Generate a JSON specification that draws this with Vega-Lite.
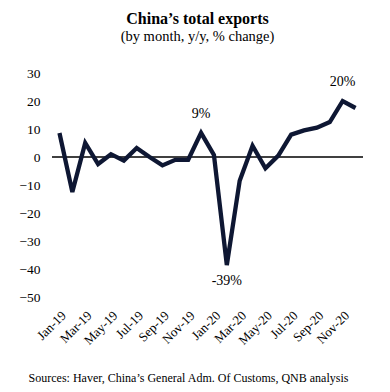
{
  "$schema": "https://vega.github.io/schema/vega-lite/v6.json",
  "autosize": "none",
  "width": 311,
  "height": 224,
  "padding": {"left": 52, "top": 73, "right": 27, "bottom": 95},
  "background": "white",
  "config": {"view": {"stroke": null}, "font": "Liberation Serif"},
  "title": {
    "text": "China’s total exports",
    "subtitle": "(by month, y/y, % change)",
    "font": "Liberation Serif",
    "fontSize": 16,
    "fontWeight": "bold",
    "color": "black",
    "subtitleFont": "Liberation Serif",
    "subtitleFontSize": 14.5,
    "subtitleColor": "black",
    "subtitlePadding": 3,
    "anchor": "middle",
    "dx": -10,
    "offset": 23
  },
  "data": {"values": [
    {"month": "Jan-19", "value": 8.6},
    {"month": "Feb-19", "value": -12.5},
    {"month": "Mar-19", "value": 5},
    {"month": "Apr-19", "value": -2.5},
    {"month": "May-19", "value": 1},
    {"month": "Jun-19", "value": -1.3},
    {"month": "Jul-19", "value": 3.2},
    {"month": "Aug-19", "value": 0},
    {"month": "Sep-19", "value": -3},
    {"month": "Oct-19", "value": -1},
    {"month": "Nov-19", "value": -1},
    {"month": "Dec-19", "value": 8.6},
    {"month": "Jan-20", "value": 0.7},
    {"month": "Feb-20", "value": -38.6},
    {"month": "Mar-20", "value": -8.5},
    {"month": "Apr-20", "value": 4},
    {"month": "May-20", "value": -4},
    {"month": "Jun-20", "value": 0.5},
    {"month": "Jul-20", "value": 8},
    {"month": "Aug-20", "value": 9.5},
    {"month": "Sep-20", "value": 10.5},
    {"month": "Oct-20", "value": 12.5},
    {"month": "Nov-20", "value": 20},
    {"month": "Dec-20", "value": 17.5}
  ]},
  "encoding": {
    "x": {
      "field": "month", "type": "ordinal", "sort": null,
      "scale": {"type": "point", "padding": 0.58},
      "axis": {
        "values": ["Jan-19","Mar-19","May-19","Jul-19","Sep-19","Nov-19","Jan-20","Mar-20","May-20","Jul-20","Sep-20","Nov-20"],
        "labelAngle": -45, "labelAlign": "right", "labelBaseline": "middle",
        "labelFont": "Liberation Serif", "labelFontSize": 13, "labelColor": "black",
        "labelPadding": 16, "labelOffset": 4,
        "domain": false, "ticks": false, "grid": false,
        "title": "Sources: Haver, China’s General Adm. Of Customs, QNB analysis",
        "titleFont": "Liberation Serif", "titleFontSize": 12, "titleFontWeight": "normal",
        "titleColor": "black", "titleX": 136, "titleY": 80, "titleBaseline": "middle", "titleAlign": "center"
      }
    },
    "y": {
      "field": "value", "type": "quantitative",
      "scale": {"domain": [-50, 30], "nice": false},
      "axis": {
        "values": [-50,-40,-30,-20,-10,0,10,20,30],
        "domain": false, "ticks": false, "grid": false,
        "labelFont": "Liberation Serif", "labelFontSize": 13.5, "labelColor": "black",
        "labelPadding": 12, "title": null
      }
    }
  },
  "layer": [
    {
      "data": {"values": [{"zero": 0}]},
      "mark": {"type": "rule", "color": "black", "strokeWidth": 1.3},
      "encoding": {"y": {"field": "zero", "type": "quantitative"}, "x": null}
    },
    {
      "mark": {"type": "line", "color": "#0e1733", "strokeWidth": 4.3, "strokeJoin": "miter", "strokeCap": "butt"}
    },
    {
      "data": {"values": [{"month": "Dec-19", "value": 8.6, "label": "9%"}, {"month": "Nov-20", "value": 20, "label": "20%"}]},
      "mark": {"type": "text", "font": "Liberation Serif", "fontSize": 14, "color": "black", "dy": -12, "baseline": "bottom"},
      "encoding": {"text": {"field": "label"}}
    },
    {
      "data": {"values": [{"month": "Feb-20", "value": -38.6, "label": "-39%"}]},
      "mark": {"type": "text", "font": "Liberation Serif", "fontSize": 14, "color": "black", "dy": 9, "baseline": "top"},
      "encoding": {"text": {"field": "label"}}
    }
  ]
}
